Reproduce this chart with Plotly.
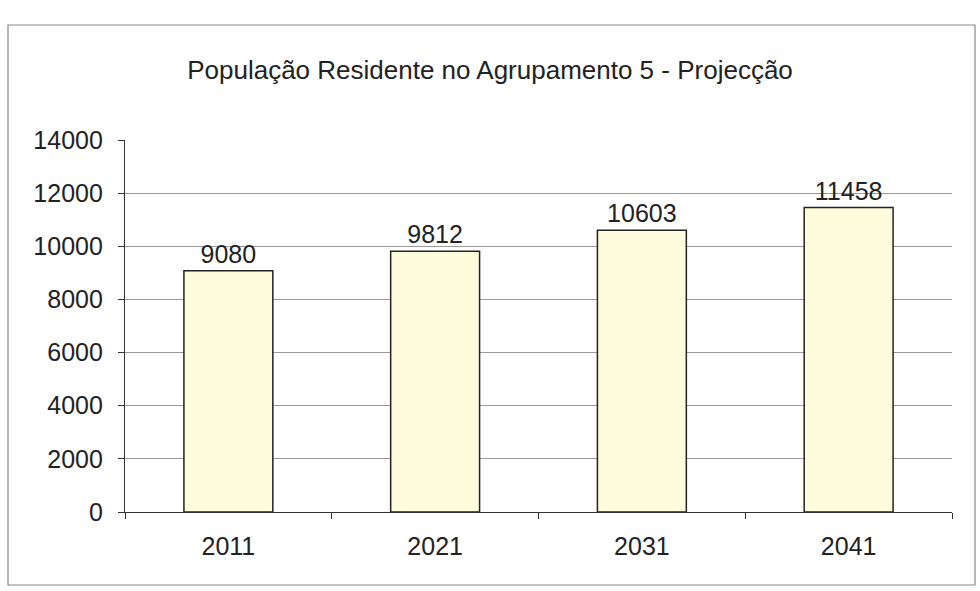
import plotly.graph_objects as go

years = ["2011", "2021", "2031", "2041"]
population = [9080, 9812, 10603, 11458]
y_ticks = [0, 2000, 4000, 6000, 8000, 10000, 12000, 14000]
y_tick_labels = ["0", "2000", "4000", "6000", "8000", "10000", "12000", "14000"]
title_text = "População Residente no Agrupamento 5 - Projecção"

W, H = 980, 591
L, R, T, B = 125, 28, 140, 79
pw, ph = W - L - R, H - T - B

def px(x):
    return (x - L) / pw

def py(y):
    return (H - B - y) / ph

fig = go.Figure(go.Bar(
    x=years, y=population,
    marker=dict(color="#FDFDDD", line=dict(color="#222222", width=1.5)),
    text=[str(v) for v in population], textposition="outside",
    textfont=dict(size=25, color="#222222", family="Liberation Sans, Arial"),
    cliponaxis=False,
))

fig.update_layout(
    width=W, height=H,
    margin=dict(l=L, r=R, t=T, b=B),
    paper_bgcolor="white", plot_bgcolor="white",
    font=dict(family="Liberation Sans, Arial", color="#222222"),
    title=dict(text=title_text, x=0.5, xref="container", xanchor="center",
               y=1 - 70 / H, yref="container", yanchor="middle",
               font=dict(size=26, color="#222222")),
    bargap=0.57,
    showlegend=False,
    shapes=[dict(type="rect", xref="paper", yref="paper",
                 x0=px(8), x1=px(975), y0=py(585), y1=py(25),
                 line=dict(color="#888888", width=1.2), fillcolor="rgba(0,0,0,0)",
                 layer="below")],
)
fig.update_xaxes(showline=True, linecolor="#333333", linewidth=1.2,
                 ticks="outside", tickson="boundaries", ticklen=6, tickcolor="#333333",
                 ticklabelstandoff=12,
                 tickfont=dict(size=25, color="#222222"), showgrid=False)
fig.update_yaxes(range=[0, 14000], tickvals=y_ticks, ticktext=y_tick_labels,
                 showline=True, linecolor="#333333",
                 linewidth=1.2, ticks="outside", ticklen=6, tickcolor="#333333",
                 ticklabelstandoff=10,
                 gridcolor="#999999", gridwidth=1, zeroline=False,
                 tickfont=dict(size=25, color="#222222"))

fig.write_html("out.html", config={"displayModeBar": False},
               post_script="document.body.style.margin='0';")
